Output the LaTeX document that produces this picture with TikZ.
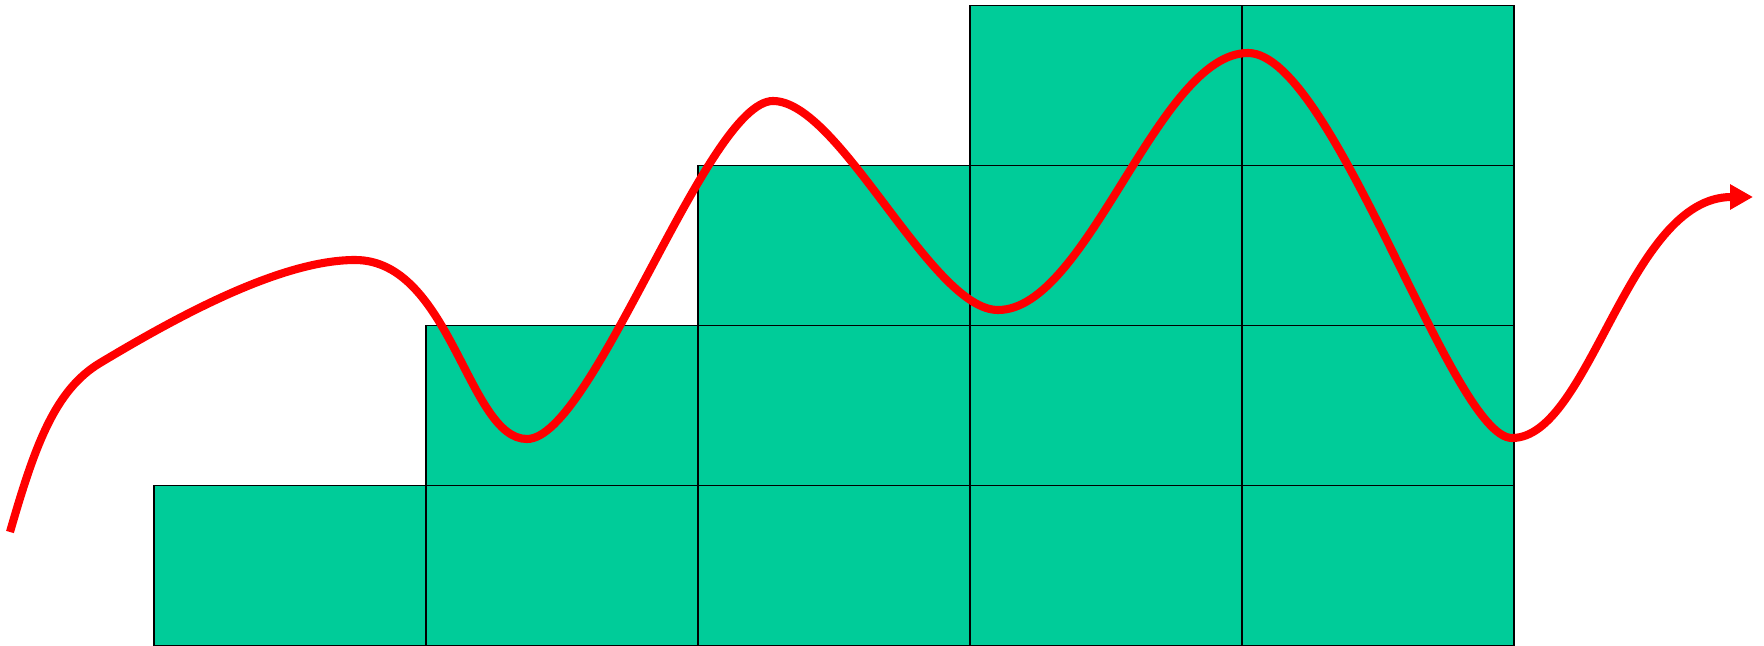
\documentclass[tikz,border=0pt]{standalone}
\usetikzlibrary{arrows.meta}
\definecolor{cellgreen}{HTML}{00CC99}
\begin{document}
\begin{tikzpicture}[x=0.01cm, y=-0.01cm,
    cell/.style={fill=cellgreen, draw=black, line width=0.5pt},
    wave/.style={red, line width=2.3pt, -{Triangle[length=6.5pt,width=6.8pt]}}]
    \useasboundingbox (0,0) rectangle (1764,646);
    % staircase of cells, column by column
    \foreach \c/\n in {0/1,1/2,2/3,3/4,4/4}
        \foreach \r in {1,...,\n}
            \draw[cell] (154+272*\c, 645.5-160*\r) rectangle ++(272,160);
    % turning points of the red curve
    \coordinate (start) at (10,532);
    \coordinate (bend) at (100,363);
    \coordinate (top1) at (355,260);
    \coordinate (low1) at (527,439);
    \coordinate (top2) at (773,101);
    \coordinate (low2) at (998,310);
    \coordinate (top3) at (1248,53);
    \coordinate (low3) at (1512,438);
    \coordinate (tip) at (1753,197);
    \draw[wave] (start) .. controls (35,445) and (55,390) .. (bend)
        .. controls (175,318) and (280,260) .. (top1)
        .. controls (451,260) and (468,439) .. (low1)
        .. controls (593,439) and (707,101) .. (top2)
        .. controls (840,101) and (931,310) .. (low2)
        .. controls (1088,310) and (1158,53) .. (top3)
        .. controls (1333,53) and (1452,438) .. (low3)
        .. controls (1590,438) and (1628,197) .. (tip);
\end{tikzpicture}
\end{document}
